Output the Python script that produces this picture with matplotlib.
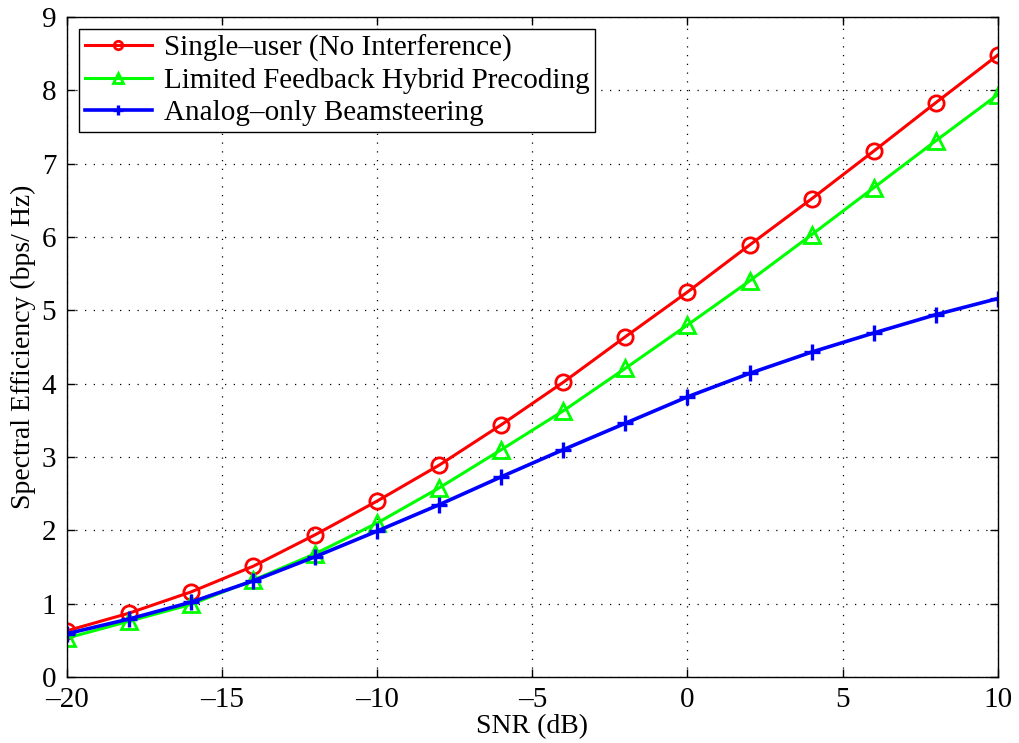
import numpy as np
import matplotlib.pyplot as plt

snr_db = np.arange(-20, 11, 2)

single_user = [0.63, 0.87, 1.16, 1.51, 1.94, 2.40, 2.89, 3.44, 4.02, 4.64,
               5.25, 5.89, 6.52, 7.17, 7.83, 8.48]
hybrid_fb = [0.53, 0.76, 0.99, 1.32, 1.68, 2.10, 2.58, 3.10, 3.63, 4.21,
             4.80, 5.40, 6.03, 6.67, 7.31, 7.94]
analog_only = [0.59, 0.79, 1.02, 1.31, 1.64, 1.99, 2.35, 2.73, 3.10, 3.46,
               3.82, 4.14, 4.43, 4.69, 4.94, 5.16]

labels = ["Single\u2013user (No Interference)",
          "Limited Feedback Hybrid Precoding",
          "Analog\u2013only Beamsteering"]

plt.rcParams['font.family'] = ['Liberation Serif', 'DejaVu Serif']

fig = plt.figure(figsize=(10.19, 7.43), dpi=100)
ax = fig.add_axes([0.066, 0.089, 0.913, 0.888])

ax.plot(snr_db, single_user, color='#ff0000', lw=2.2, marker='o', ms=11,
        mfc='none', mew=2, label=labels[0])
ax.plot(snr_db, hybrid_fb, color='#00ff00', lw=2.2, marker='^', ms=12,
        mfc='none', mew=2, label=labels[1])
ax.plot(snr_db, analog_only, color='#0000ff', lw=2.6, marker='+', ms=12,
        mew=2.4, label=labels[2])

ax.set_xlim(-20, 10)
ax.set_ylim(0, 9)
ax.set_xticks(np.arange(-20, 11, 5))
ax.set_yticks(np.arange(0, 10, 1))
ax.set_xticklabels(["\u2013" + str(-v) if v < 0 else str(v) for v in range(-20, 11, 5)])

ax.grid(True, color='black', linestyle=(0, (1, 6)), linewidth=0.9)
ax.tick_params(direction='in', top=True, right=True, labelsize=21, length=6,
               width=1)
ax.tick_params(axis='x', pad=7)
ax.tick_params(axis='y', pad=8)
for s in ax.spines.values():
    s.set_linewidth(1)

ax.set_xlabel("SNR (dB)", fontsize=20, labelpad=1)
ax.set_ylabel("Spectral Efficiency (bps/ Hz)", fontsize=20, labelpad=4)

leg = ax.legend(loc='upper left', fontsize=21, markerscale=0.55, fancybox=False,
                framealpha=1, edgecolor='black', borderpad=0.2,
                labelspacing=0.2, handlelength=2.3, handletextpad=0.4,
                borderaxespad=0.4)
leg.get_frame().set_linewidth(1)

fig.savefig("out.png", dpi=100)
